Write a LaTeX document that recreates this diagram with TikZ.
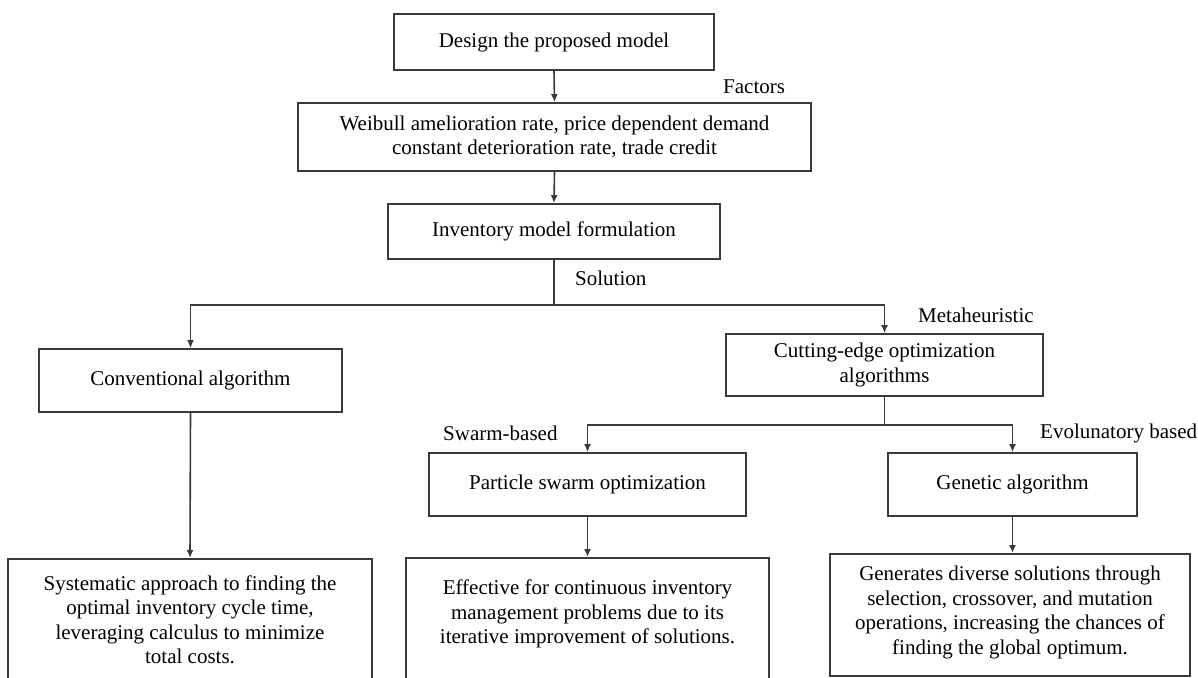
\documentclass[tikz,border=0pt]{standalone}
\usepackage{fontspec}
\setmainfont{Liberation Serif}
\usetikzlibrary{arrows.meta}
\definecolor{lncol}{HTML}{3A3A3A}
\begin{document}
\begin{tikzpicture}[x=1pt,y=-1pt,
  box/.style={draw=lncol, line width=1.7pt, fill=white, align=center, inner sep=0pt,
    font=\fontsize{21}{24.5}\selectfont},
  tbox/.style={align=center, inner sep=0pt, font=\fontsize{21}{24.5}\selectfont},
  lbl/.style={inner sep=0pt, anchor=west, font=\fontsize{21}{24.5}\selectfont},
  conn/.style={draw=lncol, line width=1.6pt},
  arr/.style={conn, -{Latex[length=8pt,width=7pt]}}]
\useasboundingbox (0,0) rectangle (1198,677);
\clip (0,0) rectangle (1198,677);
\fill[white] (0,0) rectangle (1198,677);

% main column
\node[box, minimum width=320pt, minimum height=56pt] (design) at (554,42) {Design the proposed model};
\node[box, minimum width=513pt, minimum height=68pt] (factors) at (554.5,137)
  {Weibull amelioration rate, price dependent demand\\constant deterioration rate, trade credit};
\node[box, minimum width=332pt, minimum height=55pt] (formul) at (554,231.5) {Inventory model formulation};

% second level
\node[box, minimum width=303pt, minimum height=63pt] (conv) at (190.5,380.5) {Conventional algorithm};
\node[box, minimum width=317pt, minimum height=62pt] (cut) at (884.5,365) {Cutting-edge optimization\\algorithms};

% third level
\node[box, minimum width=317pt, minimum height=63pt] (pso) at (587.5,484.5) {Particle swarm optimization};
\node[box, minimum width=249pt, minimum height=63pt] (ga) at (1012.5,484.5) {Genetic algorithm};

% bottom boxes
\node[box, anchor=north, minimum width=364pt, minimum height=140pt] (convd) at (190,558) {};
\node[tbox] (convt) at (190,619.5) {Systematic approach to finding the\\optimal inventory cycle time,\\leveraging calculus to minimize\\total costs.};
\node[box, anchor=north, minimum width=363pt, minimum height=140pt] (psod) at (587.5,557) {};
\node[tbox] (psot) at (587.5,614) {Effective for continuous inventory\\management problems due to its\\iterative improvement of solutions.};
\node[box, anchor=north, minimum width=360pt, minimum height=122pt] (gad) at (1010,553) {};
\node[tbox] (gat) at (1010,612.5) {Generates diverse solutions through\\selection, crossover, and mutation\\operations, increasing the chances of\\finding the global optimum.};

% labels
\node[lbl] (lfac) at (723,87) {Factors};
\node[lbl] (lsol) at (575,278) {Solution};
\node[lbl] (lmeta) at (918,315) {Metaheuristic};
\node[lbl] (lswarm) at (443,433) {Swarm-based};
\node[lbl] (levo) at (1040,433) {Evolunatory based};

% connectors
\coordinate (solj) at (554,305);
\coordinate (metaj) at (884.5,425);
\draw[arr] (design.south) -- (factors.north);
\draw[arr] (factors.south) -- (formul.north);
\draw[conn] (formul.south) -- (solj);
\draw[arr] (solj) -| (conv.north);
\draw[arr] (solj) -| (cut.north);
\draw[conn] (cut.south) -- (metaj);
\draw[arr] (metaj) -| (pso.north);
\draw[arr] (metaj) -| (ga.north);
\draw[arr] (conv.south) -- (convd.north);
\draw[arr] (pso.south) -- (psod.north);
\draw[arr] (ga.south) -- (gad.north -| ga.south);
\end{tikzpicture}
\end{document}
